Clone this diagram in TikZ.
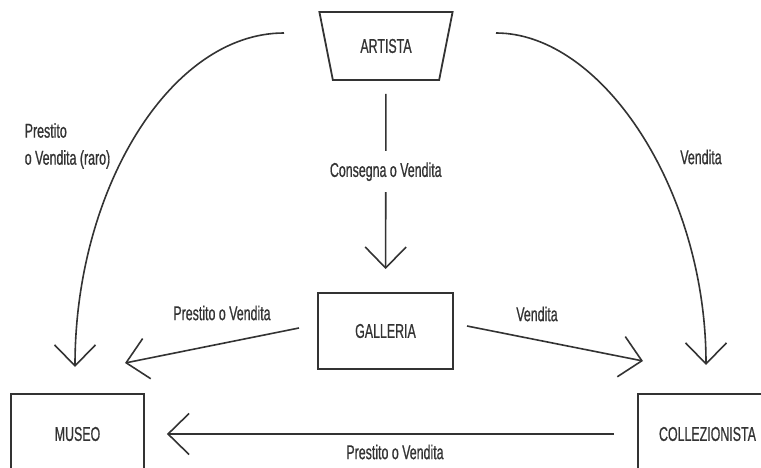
\documentclass[tikz,border=0pt]{standalone}
\usepackage{fontspec}
\setmainfont{Liberation Sans}[FakeStretch=0.62,FakeBold=0.7]
\usetikzlibrary{arrows.meta,shapes.geometric}
\definecolor{tratto}{HTML}{333333}

\begin{document}
\begin{tikzpicture}[x=1pt,y=-1pt,>={Straight Barb[length=21pt,width=41pt]},
  every node/.style={font=\fontsize{20}{27}\selectfont,text=tratto},
  box/.style={draw=tratto,line width=1.8pt,rectangle},
  flow/.style={->,draw=tratto,line width=1.6pt}]
  \clip (0,0) rectangle (761,468);
  % soggetti
  \node[box,trapezium,shape border rotate=180,trapezium angle=70.6,
    trapezium stretches=true,minimum width=134pt,minimum height=68pt]
    (artista) at (386,46) {ARTISTA};
  \node[box,minimum width=135pt,minimum height=76pt] (galleria) at (385.5,331) {GALLERIA};
  \node[box,minimum width=133pt,minimum height=80pt] (museo) at (77.5,434) {MUSEO};
  \node[box,minimum width=139pt,minimum height=80pt] (collezionista) at (707.5,434) {COLLEZIONISTA};
  % estremi liberi
  \coordinate (sxA) at (284,33);
  \coordinate (sxB) at (75,367);
  \coordinate (dxA) at (496,33);
  \coordinate (dxB) at (706,365);
  \coordinate (gm) at (299,328);
  \coordinate (mg) at (125,363);
  \coordinate (gc) at (467,326);
  \coordinate (cg) at (643,361);
  % flussi
  \draw[flow,shorten <=13pt,shorten >=23pt] (artista) --
    node[pos=0.43,fill=white,minimum height=41pt] (etag) {Consegna o Vendita} (galleria);
  \draw[flow] (sxA) .. controls (170,33) and (75,190) .. (sxB);
  \draw[flow] (dxA) .. controls (602,33) and (706,190) .. (dxB);
  \draw[flow] (gm) -- (mg);
  \draw[flow] (gc) -- (cg);
  \draw[flow,shorten <=23pt,shorten >=22pt] (collezionista) -- (museo);
  % etichette
  \node[align=left] (etsx) at (67.5,146) {Prestito\\o Vendita (raro)};
  \node (etdx) at (701,157) {Vendita};
  \node (etgm) at (222,313) {Prestito o Vendita};
  \node (etgc) at (537,314) {Vendita};
  \node (etcm) at (395,452) {Prestito o Vendita};
\end{tikzpicture}
\end{document}
